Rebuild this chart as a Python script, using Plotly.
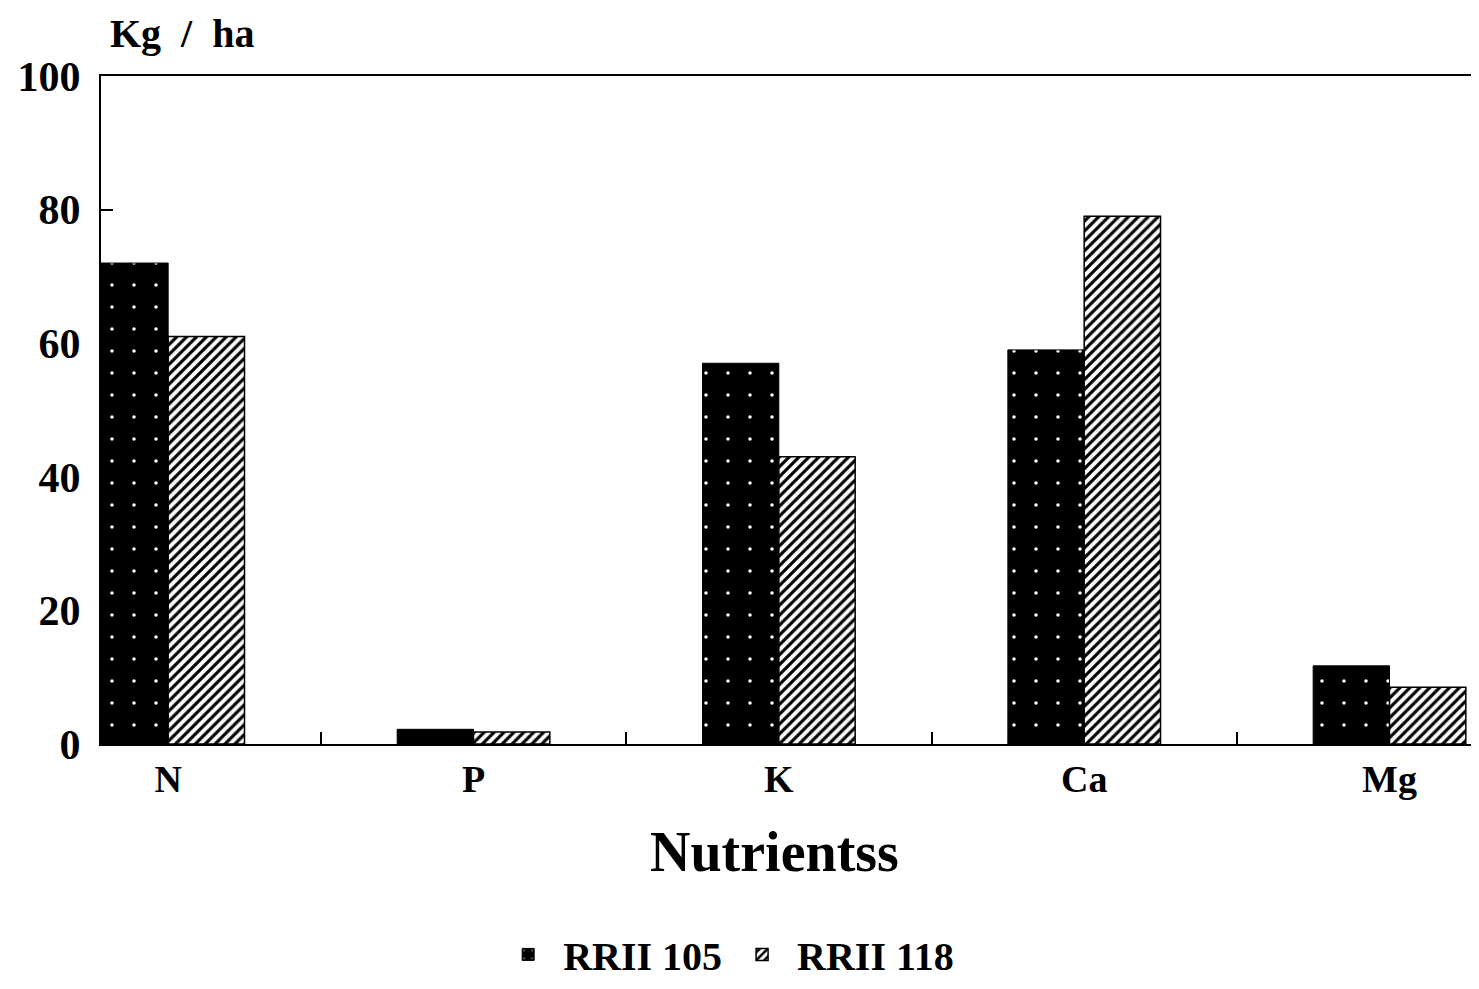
import plotly.graph_objects as go

nutrients = ["N", "P", "K", "Ca", "Mg"]
rrii_105 = [72, 2.2, 57, 59, 11.7]
rrii_118 = [61, 1.8, 43, 79, 8.5]
y_ticks = [0, 20, 40, 60, 80, 100]

FONT = "Liberation Serif"

fig = go.Figure()
fig.add_trace(go.Bar(
    x=nutrients, y=rrii_105, name="RRII 105",
    marker=dict(color="black", line=dict(color="black", width=1),
                pattern=dict(shape=".", fgcolor="white", bgcolor="black",
                             size=22, solidity=0.02, fillmode="replace")),
))
fig.add_trace(go.Bar(
    x=nutrients, y=rrii_118, name="RRII 118",
    marker=dict(color="white", line=dict(color="black", width=1.5),
                pattern=dict(shape="/", fgcolor="black", bgcolor="white",
                             size=7, solidity=0.45, fillmode="replace")),
))

fig.update_layout(
    width=1479, height=989,
    margin=dict(l=93, r=10, t=68, b=244),
    paper_bgcolor="white", plot_bgcolor="white",
    barmode="group", bargap=0.5, bargroupgap=0,
    font=dict(family=FONT, color="black", size=30, weight="bold"),
    showlegend=True,
    legend=dict(orientation="h", x=0.455, xanchor="center", y=-0.315, yanchor="middle",
                font=dict(family=FONT, size=40, color="black", weight="bold"),
                itemwidth=60, bgcolor="rgba(0,0,0,0)"),
    xaxis=dict(
        type="category", range=[-0.22, 4.28],
        showline=True, linecolor="black", linewidth=2, mirror=True,
        ticks="inside", tickson="boundaries", ticklen=12, tickwidth=1.5, tickcolor="black",
        tickfont=dict(family=FONT, size=38, color="black", weight="bold"),
        showgrid=False, zeroline=False,
    ),
    yaxis=dict(
        range=[0, 100], tickvals=y_ticks,
        showline=True, linecolor="black", linewidth=2, mirror=True,
        ticks="inside", ticklen=12, tickwidth=1.5, tickcolor="black",
        tickfont=dict(family=FONT, size=42, color="black", weight="bold"),
        ticklabelstandoff=10,
        showgrid=False, zeroline=False,
    ),
    annotations=[
        dict(text="Kg  /  ha", xref="paper", yref="paper", x=0.005, y=1.0,
             xanchor="left", yanchor="bottom", yshift=18, showarrow=False,
             font=dict(family=FONT, size=40, color="black", weight="bold")),
        dict(text="Nutrientss", xref="paper", yref="paper", x=0.49, y=0,
             xanchor="center", yanchor="middle", yshift=-108, showarrow=False,
             font=dict(family=FONT, size=56, color="black", weight="bold")),
    ],
)

fig.write_html("out.html")
